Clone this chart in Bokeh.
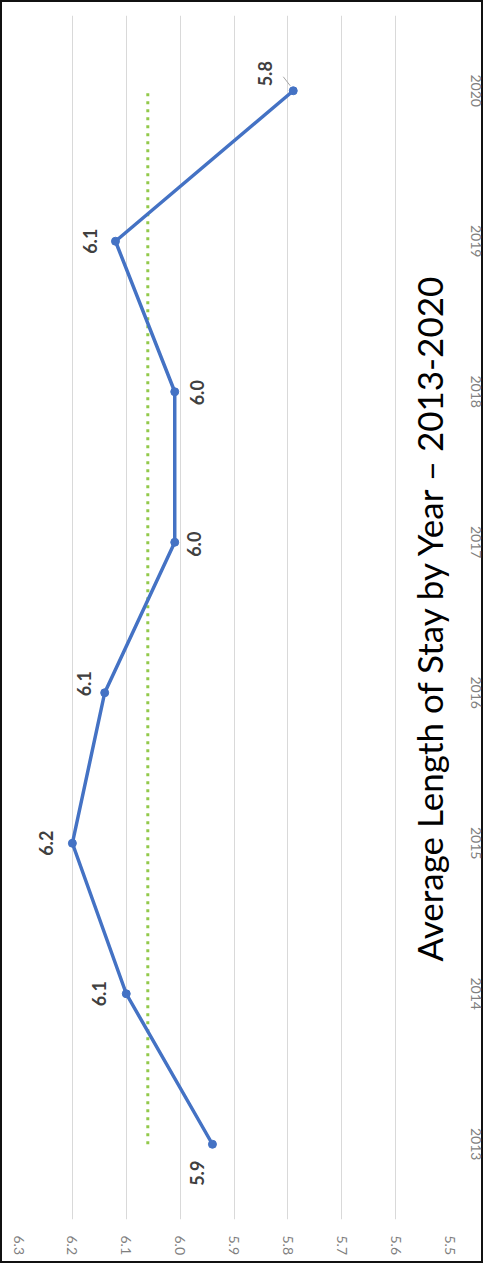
import math
from bokeh.plotting import figure
from bokeh.models import Range1d, FixedTicker, NumeralTickFormatter, Label, ColumnDataSource
from bokeh.core.properties import value
from bokeh.embed import file_html
from bokeh.resources import INLINE

# ---- data ----
years = [2013, 2014, 2015, 2016, 2017, 2018, 2019, 2020]
avg_stay = [5.94, 6.10, 6.20, 6.14, 6.01, 6.01, 6.12, 5.79]
stay_labels = ["5.9", "6.1", "6.2", "6.1", "6.0", "6.0", "6.1", "5.8"]
overall_avg = 6.06
value_ticks = [5.5, 5.6, 5.7, 5.8, 5.9, 6.0, 6.1, 6.2, 6.3]
title_text = "Average Length of Stay by Year \u2013 2013-2020"

# ---- label placement (screen px offsets, style only) ----
lab_dx = [-15, -27, -26, -21, 19, 22, -25, -28]
lab_dy = [29, 0, 0, -9, 2, 1, 0, -17]

W, H = 483, 1263
ML, MR, MT, MB = 18, 34, 15, 44
XMAX, XMIN = 6.3, 5.5
YMIN, YMAX = 2012.5, 2020.5

p = figure(width=W, height=H,
           x_range=Range1d(XMAX, XMIN), y_range=Range1d(YMIN, YMAX),
           output_backend="svg", toolbar_location=None,
           x_axis_location="below", y_axis_location="right",
           min_border_left=ML, min_border_right=MR,
           min_border_top=MT, min_border_bottom=MB)
p.outline_line_color = None
p.background_fill_color = "white"
p.border_fill_color = "white"
p.border_fill_alpha = 0
p.styles = {"background-color": "white",
            "box-shadow": "inset 0 0 0 2px #111111"}

# axes
for ax in (p.xaxis, p.yaxis):
    ax.axis_line_color = None
    ax.major_tick_line_color = None
    ax.minor_tick_line_color = None
    ax.major_label_text_font = "Lato"
    ax.major_label_text_font_size = "14px"
    ax.major_label_text_color = "#7F7F7F"
    ax.major_label_orientation = "vertical"

p.xaxis.ticker = FixedTicker(ticks=value_ticks)
p.xaxis.formatter = NumeralTickFormatter(format="0.0")
p.xaxis.major_label_standoff = 10
p.yaxis.ticker = FixedTicker(ticks=years)
p.yaxis.major_label_standoff = 15

p.xgrid.ticker = FixedTicker(ticks=value_ticks)
p.xgrid.grid_line_color = "#D9D9D9"
p.xgrid.grid_line_width = 1
p.ygrid.grid_line_color = None

# average dotted line
p.line(x=[overall_avg, overall_avg], y=[years[0], years[-1]],
       line_color="#92C94A", line_width=3, line_dash="3 5")

# main series
src = ColumnDataSource(dict(x=avg_stay, y=years, t=stay_labels, dx=lab_dx, dy=lab_dy))
p.line(x="x", y="y", source=src, line_color="#4472C4", line_width=3.5)
p.scatter(x="x", y="y", source=src, size=8, fill_color="#4472C4", line_color="#4472C4")

# leader line for last label
px_x = (XMAX - XMIN) / (W - ML - MR)
px_y = (YMAX - YMIN) / (H - MT - MB)
lx, ly = avg_stay[-1], years[-1]
p.line(x=[lx + 3 * px_x, lx + 10 * px_x], y=[ly + 5 * px_y, ly + 14 * px_y],
       line_color="#A6A6A6", line_width=1)

p.text(x="x", y="y", text="t", source=src, x_offset="dx", y_offset="dy",
       angle=math.pi / 2, text_align="center", text_baseline="middle",
       text_font=value("Lato"), text_font_style="bold", text_font_size="18px",
       text_color="#404040")

# rotated title
p.add_layout(Label(x=5.538, y=2016.504, text=title_text, angle=math.pi / 2,
                   text_align="center", text_baseline="alphabetic",
                   text_font="Lato", text_font_size="35px", text_color="#000000"))

open("out.html", "w").write(file_html(p, INLINE))
